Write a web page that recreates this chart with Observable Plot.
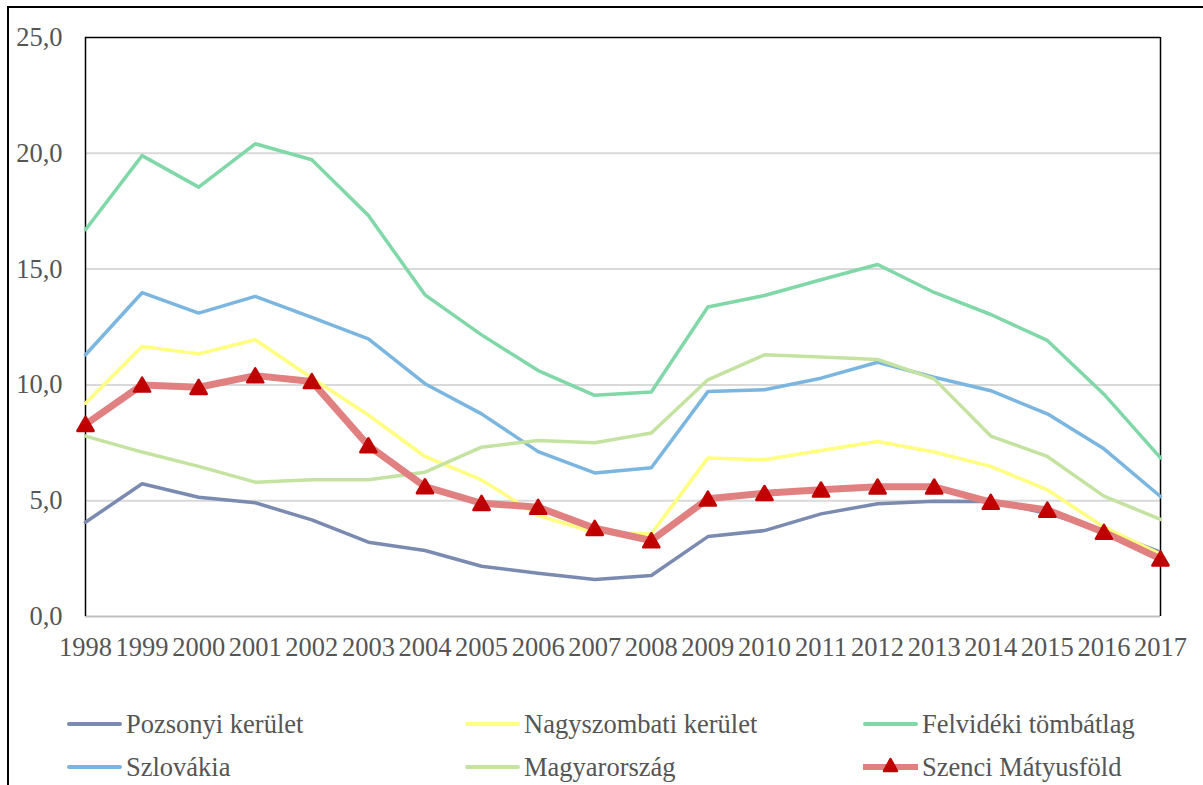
<!DOCTYPE html>
<html>
<head>
<meta charset="utf-8">
<script src="https://cdn.jsdelivr.net/npm/d3@7"></script>
<script src="https://cdn.jsdelivr.net/npm/@observablehq/plot@0.6"></script>
<style>
  html, body { margin: 0; padding: 0; background: #fff; overflow: hidden; }
  #wrap { position: relative; width: 1203px; height: 785px; overflow: hidden; }
  #frame { position: absolute; left: 7px; top: 6px; width: 1300px; height: 900px; border: 2px solid #000; box-sizing: border-box; pointer-events: none; }
  #chart { position: absolute; left: 0; top: 0; }
  .leg { position: absolute; display: flex; align-items: center; font-family: "Liberation Serif", serif; font-size: 26.5px; color: #555555; white-space: nowrap; }
  .leg svg { display: block; margin-right: 4px; }
</style>
</head>
<body>
<div id="wrap">
  <div id="chart"></div>
  <div id="legend"></div>
  <div id="frame"></div>
</div>
<script>
const years = [1998, 1999, 2000, 2001, 2002, 2003, 2004, 2005, 2006, 2007, 2008, 2009, 2010, 2011, 2012, 2013, 2014, 2015, 2016, 2017];
const yTicks = [0, 5, 10, 15, 20, 25];

const seriesNames = ["Pozsonyi kerület", "Nagyszombati kerület", "Felvidéki tömbátlag", "Szlovákia", "Magyarország", "Szenci Mátyusföld"];
const seriesColors = ["#7b8ab0", "#ffff80", "#80d8a8", "#7ab6e0", "#c5e3a0", "#e08080"];

const pozsonyi     = [4.07, 5.73, 5.15, 4.91, 4.17, 3.21, 2.85, 2.17, 1.87, 1.60, 1.77, 3.45, 3.71, 4.43, 4.87, 4.98, 4.97, 4.45, 3.71, 2.78];
const nagyszombati = [9.21, 11.66, 11.34, 11.95, 10.30, 8.70, 6.91, 5.90, 4.36, 3.64, 3.57, 6.84, 6.77, 7.17, 7.56, 7.10, 6.48, 5.47, 3.86, 2.70];
const felvideki    = [16.70, 19.90, 18.54, 20.41, 19.72, 17.31, 13.89, 12.16, 10.62, 9.55, 9.69, 13.36, 13.86, 14.54, 15.20, 13.99, 13.04, 11.92, 9.60, 6.85];
const szlovakia    = [11.30, 13.98, 13.10, 13.82, 12.92, 11.99, 10.05, 8.75, 7.12, 6.20, 6.42, 9.71, 9.79, 10.29, 10.98, 10.33, 9.75, 8.75, 7.24, 5.18];
const magyarorszag = [7.79, 7.10, 6.48, 5.80, 5.90, 5.90, 6.23, 7.31, 7.60, 7.50, 7.92, 10.22, 11.30, 11.20, 11.10, 10.26, 7.79, 6.91, 5.20, 4.19];
const szenci       = [8.30, 10.00, 9.90, 10.40, 10.15, 7.38, 5.61, 4.89, 4.72, 3.81, 3.28, 5.08, 5.32, 5.47, 5.60, 5.60, 4.94, 4.60, 3.64, 2.49];

const allSeries = [pozsonyi, nagyszombati, felvideki, szlovakia, magyarorszag, szenci];
const rows = allSeries.map((vals, i) => years.map((year, j) => ({series: seriesNames[i], year, value: vals[j]})));
const fmt = d => d.toFixed(1).replace(".", ",");

const thinMarks = rows.slice(0, 5).map((data, i) =>
  Plot.line(data, {x: "year", y: "value", stroke: seriesColors[i], strokeWidth: 3.5, strokeLinejoin: "round"})
);

const chart = Plot.plot({
  width: 1203,
  height: 680,
  marginLeft: 85,
  marginRight: 43,
  marginTop: 37,
  marginBottom: 64,
  style: {fontFamily: "Liberation Serif, serif", fontSize: "26.5px", color: "#555555", background: "transparent"},
  x: {type: "linear", domain: [1998, 2017]},
  y: {domain: [0, 25]},
  marks: [
    Plot.ruleY(yTicks.filter(d => d > 0 && d < 25), {stroke: "#d9d9d9", strokeWidth: 2}),
    Plot.ruleY([0], {stroke: "#bfbfbf", strokeWidth: 2}),
    Plot.ruleY([25], {stroke: "#000", strokeWidth: 1.5}),
    Plot.ruleX([1998, 2017], {stroke: "#000", strokeWidth: 1.5}),
    Plot.axisX({ticks: years, tickFormat: d => String(d), tickSize: 0, tickPadding: 21, label: null, fontSize: 26.5}),
    Plot.axisY({ticks: yTicks, tickFormat: fmt, tickSize: 0, tickPadding: 23, label: null, fontSize: 26.5}),
    ...thinMarks,
    Plot.line(rows[5], {x: "year", y: "value", stroke: seriesColors[5], strokeWidth: 7, strokeLinejoin: "round"}),
    Plot.dot(rows[5], {x: "year", y: "value", symbol: "triangle", r: 6, fill: "#c00000", stroke: "#c00000", strokeWidth: 2.5, strokeLinejoin: "round", dy: 2})
  ]
});
document.getElementById("chart").appendChild(chart);

// Legend (HTML, below the plot area)
const legendPos = [
  {x: 67, y: 724}, {x: 465, y: 724}, {x: 863, y: 724},
  {x: 67, y: 767}, {x: 465, y: 767}, {x: 863, y: 767}
];
const legend = document.getElementById("legend");
seriesNames.forEach((name, i) => {
  const p = legendPos[i];
  const div = document.createElement("div");
  div.className = "leg";
  div.style.left = p.x + "px";
  div.style.top = (p.y - 18) + "px";
  div.style.height = "36px";
  const isRed = i === 5;
  const sw = isRed
    ? `<svg width="55" height="22"><line x1="1" y1="11" x2="54" y2="11" stroke="${seriesColors[i]}" stroke-width="6" stroke-linecap="round"/><path d="M27.5,3 L34,15 L21,15 Z" fill="#c00000" stroke="#c00000" stroke-width="2.5" stroke-linejoin="round"/></svg>`
    : `<svg width="55" height="22"><line x1="2" y1="11" x2="53" y2="11" stroke="${seriesColors[i]}" stroke-width="4" stroke-linecap="round"/></svg>`;
  div.innerHTML = sw + `<span>${name}</span>`;
  legend.appendChild(div);
});
</script>
</body>
</html>
